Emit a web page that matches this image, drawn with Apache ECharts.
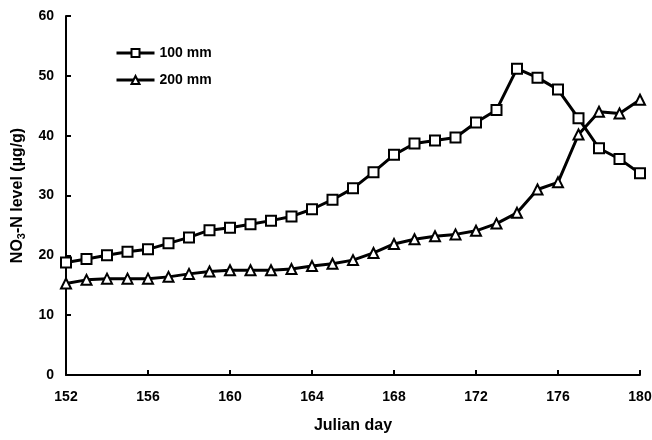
<!DOCTYPE html>
<html>
<head>
<meta charset="utf-8">
<script src="https://cdn.jsdelivr.net/npm/echarts@6/dist/echarts.min.js"></script>
<style>
  html, body { margin: 0; padding: 0; background: #fff; }
  #chart { width: 652px; height: 440px; }
</style>
</head>
<body>
<div id="chart"></div>
<script>
// julian days 152..180
var days = [152, 153, 154, 155, 156, 157, 158, 159, 160, 161, 162, 163, 164, 165, 166,
  167, 168, 169, 170, 171, 172, 173, 174, 175, 176, 177, 178, 179, 180];
var mm100 = [18.8, 19.4, 20.0, 20.6, 21.0, 22.0, 23.0, 24.2, 24.6, 25.2, 25.8, 26.5, 27.7, 29.3, 31.2,
  33.9, 36.8, 38.7, 39.2, 39.7, 42.2, 44.3, 51.2, 49.7, 47.7, 42.9, 37.9, 36.1, 33.7];
var mm200 = [15.3, 15.9, 16.1, 16.1, 16.1, 16.4, 16.9, 17.3, 17.5, 17.5, 17.5, 17.7, 18.2, 18.6, 19.2,
  20.4, 21.9, 22.7, 23.2, 23.5, 24.1, 25.3, 27.1, 31.0, 32.2, 40.2, 44.0, 43.7, 46.0];
var seriesNames = ["100 mm", "200 mm"];
var yName = "NO{sub|3}-N level (µg/g)";
var xName = "Julian day";

var font = "Liberation Sans, Arial, Helvetica, sans-serif";

function pairs(vals) {
  return vals.map(function (v, i) { return [days[i], v]; });
}

var chart = echarts.init(document.getElementById("chart"));

var lineSeries = function (name, data, symbol, size) {
  return {
    name: name,
    type: "line",
    data: pairs(data),
    symbol: symbol,
    symbolSize: size,
    showAllSymbol: true,
    lineStyle: { color: "#000", width: 3 },
    itemStyle: { color: "#fff", borderColor: "#000", borderWidth: 2 },
    emphasis: { disabled: true },
    animation: false
  };
};

chart.setOption({
  backgroundColor: "#fff",
  grid: { left: 66, right: 12, top: 16, bottom: 65, outerBoundsMode: "none" },
  legend: {
    orient: "vertical",
    left: 110,
    top: 41,
    itemGap: 13,
    itemWidth: 38,
    itemHeight: 10,
    lineStyle: { width: 3, color: "#000" },
    textStyle: { fontFamily: font, fontSize: 14, fontWeight: "bold", color: "#000" },
    data: seriesNames
  },
  xAxis: {
    type: "value",
    min: 152,
    max: 180,
    interval: 4,
    name: xName,
    nameLocation: "middle",
    nameGap: 43,
    nameMoveOverlap: false,
    nameTextStyle: { fontFamily: font, fontSize: 16, fontWeight: "bold", color: "#000" },
    axisLine: { lineStyle: { color: "#000", width: 2 } },
    axisTick: { inside: true, length: 5, lineStyle: { color: "#000", width: 2 } },
    axisLabel: { fontFamily: font, fontSize: 14, fontWeight: "bold", color: "#000", margin: 15 },
    splitLine: { show: false }
  },
  yAxis: {
    type: "value",
    min: 0,
    max: 60,
    interval: 10,
    name: yName,
    nameLocation: "middle",
    nameGap: 39,
    nameMoveOverlap: false,
    nameTextStyle: {
      fontFamily: font, fontSize: 16, fontWeight: "bold", color: "#000",
      rich: { sub: { fontFamily: font, fontSize: 11, fontWeight: "bold", color: "#000", verticalAlign: "bottom", padding: [7, 0, 0, 0] } }
    },
    axisLine: { show: true, lineStyle: { color: "#000", width: 2 } },
    axisTick: { show: true, inside: true, length: 5, lineStyle: { color: "#000", width: 2 } },
    axisLabel: { fontFamily: font, fontSize: 14, fontWeight: "bold", color: "#000", margin: 12 },
    splitLine: { show: false }
  },
  series: [
    lineSeries(seriesNames[0], mm100, "rect", 10),
    lineSeries(seriesNames[1], mm200, "triangle", 10)
  ]
});
</script>
</body>
</html>
